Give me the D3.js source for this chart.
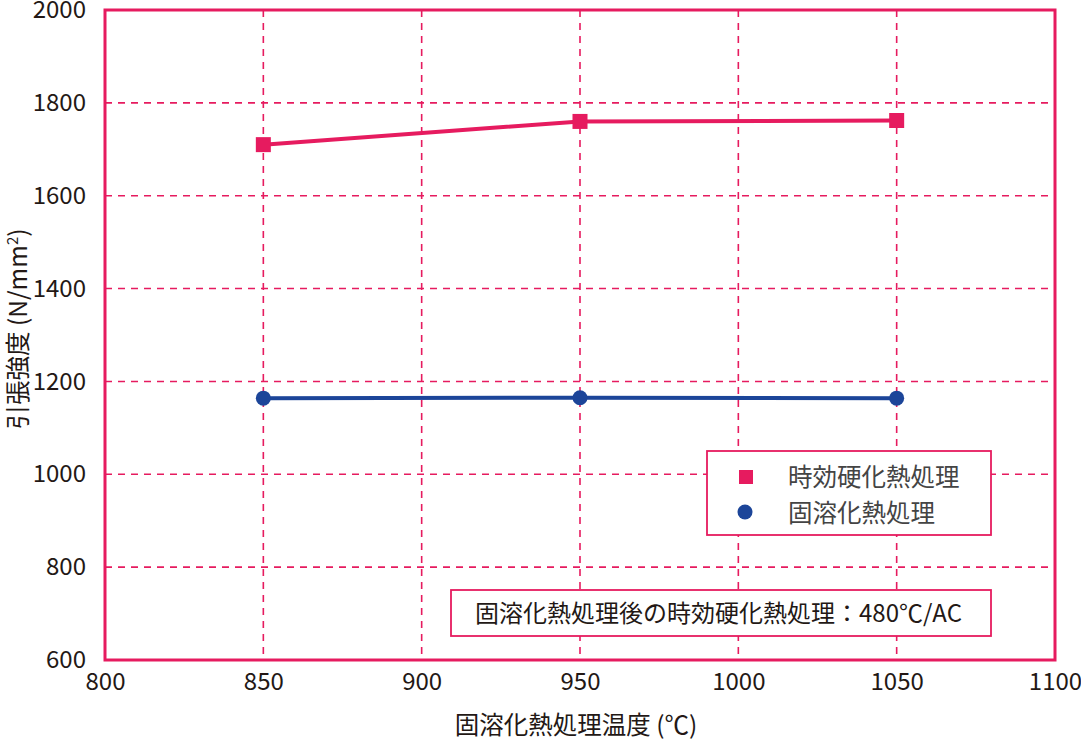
<!DOCTYPE html>
<html>
<head>
<meta charset="utf-8">
<script src="https://cdn.jsdelivr.net/npm/d3@7"></script>
<style>
  body { margin: 0; background: #fff; }
  svg { display: block; font-family: "Noto Sans CJK JP", "Noto Sans", sans-serif; }
</style>
</head>
<body>
<div id="chart"></div>
<script>
const temps = [850, 950, 1050];
const agedValues = [1710, 1760, 1762];
const solutionValues = [1164, 1165, 1164];
const xTicks = [800, 850, 900, 950, 1000, 1050, 1100];
const yTicks = [600, 800, 1000, 1200, 1400, 1600, 1800, 2000];
const seriesNames = ["時効硬化熱処理", "固溶化熱処理"];
const xTitle = "固溶化熱処理温度 (℃)";
const yTitle = "引張強度 (N/mm";
const note = "固溶化熱処理後の時効硬化熱処理：480℃/AC";

const pink = "#e61b5f";
const blue = "#1c4599";
const ink = "#231815";

const width = 1081, height = 741;
const margin = { top: 10, right: 26, bottom: 81, left: 105 };

const svg = d3.select("#chart").append("svg")
  .attr("width", width).attr("height", height);

const x = d3.scaleLinear().domain([800, 1100])
  .range([margin.left, width - margin.right]);
const y = d3.scaleLinear().domain([600, 2000])
  .range([height - margin.bottom, margin.top]);

// grid
svg.append("g")
  .selectAll("line")
  .data(xTicks.slice(1, -1))
  .join("line")
  .attr("x1", d => x(d)).attr("x2", d => x(d))
  .attr("y1", y(2000)).attr("y2", y(600))
  .attr("stroke", pink).attr("stroke-width", 1.6)
  .attr("stroke-dasharray", "7,6");

svg.append("g")
  .selectAll("line")
  .data(yTicks.slice(1, -1))
  .join("line")
  .attr("x1", x(800)).attr("x2", x(1100))
  .attr("y1", d => y(d)).attr("y2", d => y(d))
  .attr("stroke", pink).attr("stroke-width", 1.6)
  .attr("stroke-dasharray", "7,6");

// axes
const styleTicks = (g) =>
  g.attr("font-family", null).attr("font-size", null)
    .selectAll(".tick text")
    .attr("fill", ink).attr("font-size", 24);

svg.append("g")
  .attr("transform", `translate(0,${y(600)})`)
  .call(d3.axisBottom(x).tickValues(xTicks).tickSize(0).tickPadding(13).tickFormat(d3.format("d")))
  .call(g => g.select(".domain").remove())
  .call(styleTicks)
  .call(g => g.selectAll(".tick text").attr("dy", "0.71em"));

svg.append("g")
  .attr("transform", `translate(${x(800)},0)`)
  .call(d3.axisLeft(y).tickValues(yTicks).tickSize(0).tickPadding(19).tickFormat(d3.format("d")))
  .call(g => g.select(".domain").remove())
  .call(styleTicks);

// frame
svg.append("rect")
  .attr("x", x(800)).attr("y", y(2000))
  .attr("width", x(1100) - x(800)).attr("height", y(600) - y(2000))
  .attr("fill", "none").attr("stroke", pink).attr("stroke-width", 3);

// lines
const line = d3.line()
  .x((d, i) => x(temps[i]))
  .y(d => y(d));

svg.append("path").datum(agedValues)
  .attr("d", line).attr("fill", "none")
  .attr("stroke", pink).attr("stroke-width", 4);

svg.append("path").datum(solutionValues)
  .attr("d", line).attr("fill", "none")
  .attr("stroke", blue).attr("stroke-width", 4);

svg.append("g").selectAll("rect")
  .data(agedValues)
  .join("rect")
  .attr("x", (d, i) => x(temps[i]) - 7.5)
  .attr("y", d => y(d) - 7.5)
  .attr("width", 15).attr("height", 15)
  .attr("fill", pink);

svg.append("g").selectAll("circle")
  .data(solutionValues)
  .join("circle")
  .attr("cx", (d, i) => x(temps[i]))
  .attr("cy", d => y(d))
  .attr("r", 7.5)
  .attr("fill", blue);

// legend
const legend = svg.append("g");
legend.append("rect")
  .attr("x", 707).attr("y", 451).attr("width", 284).attr("height", 84)
  .attr("fill", "#fff").attr("stroke", pink).attr("stroke-width", 1.8);
legend.append("rect")
  .attr("x", 739).attr("y", 470).attr("width", 14).attr("height", 14)
  .attr("fill", pink);
legend.append("circle")
  .attr("cx", 745).attr("cy", 512).attr("r", 7.5)
  .attr("fill", blue);
legend.selectAll("text")
  .data(seriesNames)
  .join("text")
  .attr("x", 788)
  .attr("y", (d, i) => 477 + i * 36)
  .attr("dy", "0.36em")
  .attr("font-size", 24.5)
  .attr("fill", "#444")
  .text(d => d);

// note
svg.append("rect")
  .attr("x", 451).attr("y", 590).attr("width", 540).attr("height", 46)
  .attr("fill", "#fff").attr("stroke", pink).attr("stroke-width", 1.8);
svg.append("text")
  .attr("x", 475).attr("y", 613).attr("dy", "0.36em")
  .attr("font-size", 24).attr("fill", ink)
  .text(note);

// axis titles
svg.append("text")
  .attr("x", 576).attr("y", 725).attr("dy", "0.36em")
  .attr("text-anchor", "middle")
  .attr("font-size", 24.5).attr("fill", ink)
  .text(xTitle);

const yt = svg.append("text")
  .attr("transform", `translate(18,329) rotate(-90)`)
  .attr("dy", "0.36em")
  .attr("text-anchor", "middle")
  .attr("font-size", 24.5).attr("fill", ink);
yt.append("tspan").text(yTitle);
yt.append("tspan").attr("font-size", 15).attr("dy", "-0.6em").text("2");
yt.append("tspan").attr("dy", "0.36em").text(")");
</script>
</body>
</html>
